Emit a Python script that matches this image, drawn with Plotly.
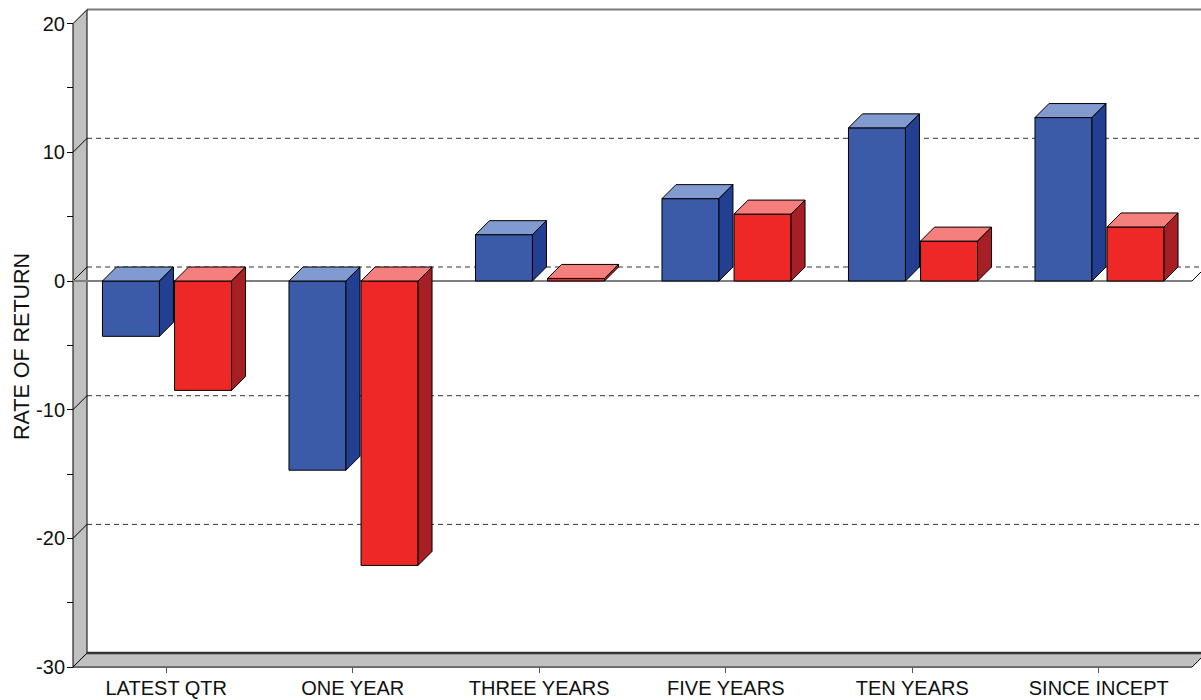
import plotly.graph_objects as go

# ---- data -------------------------------------------------------------
categories = ["LATEST QTR", "ONE YEAR", "THREE YEARS", "FIVE YEARS", "TEN YEARS", "SINCE INCEPT"]
fund_returns = [-4.3, -14.7, 3.6, 6.4, 11.9, 12.7]
index_returns = [-8.5, -22.1, 0.2, 5.2, 3.1, 4.2]
y_major_ticks = [-30, -20, -10, 0, 10, 20]
y_minor_ticks = [-25, -15, -5, 5, 15]
grid_values = [-20, -10, 0, 10]

# ---- geometry of the pseudo-3D frame ----------------------------------
W, H = 1201, 700
PX_PER_CAT = 186.5          # pixels per category on the front plane
PX_PER_UNIT = 12.87         # pixels per percentage point
DEPTH_PX = 14               # depth offset of the 3D effect (pixels)
DX = DEPTH_PX / PX_PER_CAT  # depth offset in x units
DY = DEPTH_PX / PX_PER_UNIT # depth offset in y units

Y_MIN, Y_MAX = -30, 20
X_MIN, X_MAX = -0.5, len(categories) - 0.5

# plot area in pixels (slightly larger than the frame so edges are not clipped)
ML, MR, MT, MB = 60, 0, 4, 26
front_left_px = 73
zero_px = 281
plot_w = W - ML - MR
plot_h = H - MT - MB
x_range = [X_MIN - (front_left_px - ML) / PX_PER_CAT,
           X_MIN + (W - MR - front_left_px) / PX_PER_CAT]
y_range = [-(H - MB - zero_px) / PX_PER_UNIT, (zero_px - MT) / PX_PER_UNIT]

BAR_W = 0.3056
FUND_OFFSET = -0.342
INDEX_OFFSET = 0.0445

FUND_COLORS = dict(front="#3b5ba8", top="#819ad0", side="#233f92")
INDEX_COLORS = dict(front="#ee2826", top="#f47f7c", side="#a61f24")

FONT = "Liberation Sans, Arial, sans-serif"

fig = go.Figure()


def add_series(values, offset, colors, name):
    # front faces as real bars
    fig.add_trace(go.Bar(
        x=list(range(len(values))), y=values, base=0,
        width=BAR_W, offset=offset, name=name,
        marker=dict(color=colors["front"], line=dict(color="#000000", width=1)),
        hoverinfo="skip", showlegend=False,
    ))
    top_x, top_y, side_x, side_y = [], [], [], []
    for i, v in enumerate(values):
        a = i + offset
        b = a + BAR_W
        hi = max(0, v)
        lo = min(0, v)
        top_x += [a, b, b + DX, a + DX, a, None]
        top_y += [hi, hi, hi + DY, hi + DY, hi, None]
        side_x += [b, b, b + DX, b + DX, b, None]
        side_y += [lo, hi, hi + DY, lo + DY, lo, None]
    for xs, ys, c in ((top_x, top_y, colors["top"]), (side_x, side_y, colors["side"])):
        fig.add_trace(go.Scatter(
            x=xs, y=ys, mode="lines", fill="toself", fillcolor=c,
            line=dict(color="#000000", width=1), hoverinfo="skip", showlegend=False,
        ))


add_series(fund_returns, FUND_OFFSET, FUND_COLORS, "Fund")
add_series(index_returns, INDEX_OFFSET, INDEX_COLORS, "Index")

shapes = []
back_l = X_MIN + DX
back_r = X_MAX + DX

# dashed gridlines on the back wall
for g in grid_values:
    shapes.append(dict(type="line", xref="x", yref="y", layer="below",
                       x0=back_l, x1=back_r, y0=g + DY, y1=g + DY,
                       line=dict(color="#333333", width=1, dash="5px,4px")))

# top border of the back wall
shapes.append(dict(type="line", xref="x", yref="y", layer="below",
                   x0=back_l, x1=back_r + 1, y0=Y_MAX + DY, y1=Y_MAX + DY,
                   line=dict(color="#7a7a7a", width=2)))

# left side wall
shapes.append(dict(type="path", xref="x", yref="y", layer="below",
                   path=(f"M {X_MIN},{Y_MIN} L {X_MIN},{Y_MAX} L {back_l},{Y_MAX + DY} "
                         f"L {back_l},{Y_MIN + DY} Z"),
                   fillcolor="#c0c0c0", line=dict(color="#000000", width=1)))
for g in grid_values:
    shapes.append(dict(type="line", xref="x", yref="y", layer="below",
                       x0=X_MIN, x1=back_l, y0=g, y1=g + DY,
                       line=dict(color="#000000", width=1)))

# floor
shapes.append(dict(type="path", xref="x", yref="y", layer="below",
                   path=(f"M {X_MIN},{Y_MIN} L {back_l},{Y_MIN + DY} L {back_r},{Y_MIN + DY} "
                         f"L {X_MAX},{Y_MIN} Z"),
                   fillcolor="#c0c0c0", line=dict(color="#000000", width=1)))
shapes.append(dict(type="line", xref="x", yref="y", layer="below",
                   x0=back_l, x1=back_r, y0=Y_MIN + DY, y1=Y_MIN + DY,
                   line=dict(color="#333333", width=2.5)))

# zero plane edges
shapes.append(dict(type="line", xref="x", yref="y", layer="below",
                   x0=X_MIN, x1=X_MAX, y0=0, y1=0,
                   line=dict(color="#808080", width=2)))
shapes.append(dict(type="line", xref="x", yref="y", layer="below",
                   x0=X_MAX, x1=back_r, y0=0, y1=DY,
                   line=dict(color="#000000", width=1)))

fig.update_layout(
    width=W, height=H,
    margin=dict(l=ML, r=MR, t=MT, b=MB),
    paper_bgcolor="#ffffff", plot_bgcolor="#ffffff",
    font=dict(family=FONT, size=20, color="#111111"),
    barmode="overlay", showlegend=False,
    shapes=shapes,
    xaxis=dict(
        range=x_range, showgrid=False, zeroline=False, showline=False,
        tickmode="array", tickvals=list(range(len(categories))), ticktext=categories,
        ticks="outside", ticklen=5, tickcolor="#555555", tickwidth=1,
        ticklabelstandoff=-2,
        anchor="free", position=(H - MB - (zero_px + 30 * PX_PER_UNIT)) / plot_h,
        tickfont=dict(size=20, color="#111111"),
    ),
    yaxis=dict(
        range=y_range, showgrid=False, zeroline=False, showline=False,
        tickmode="array", tickvals=y_major_ticks,
        ticktext=[str(v) for v in y_major_ticks],
        ticks="outside", ticklen=6, tickcolor="#000000", tickwidth=1,
        ticklabelstandoff=-2,
        minor=dict(tickmode="array", tickvals=y_minor_ticks, ticks="outside",
                   ticklen=6, tickcolor="#000000", tickwidth=1, showgrid=False),
        anchor="free", position=(front_left_px - ML) / plot_w,
        tickfont=dict(size=20, color="#111111"),
    ),
    annotations=[dict(
        text="RATE OF RETURN", textangle=-90, showarrow=False,
        xref="paper", yref="paper",
        x=(22 - ML) / plot_w, y=(H - MB - 347) / plot_h,
        xanchor="center", yanchor="middle",
        font=dict(family=FONT, size=21.5, color="#111111"),
    )],
)

fig.write_html("out.html")
